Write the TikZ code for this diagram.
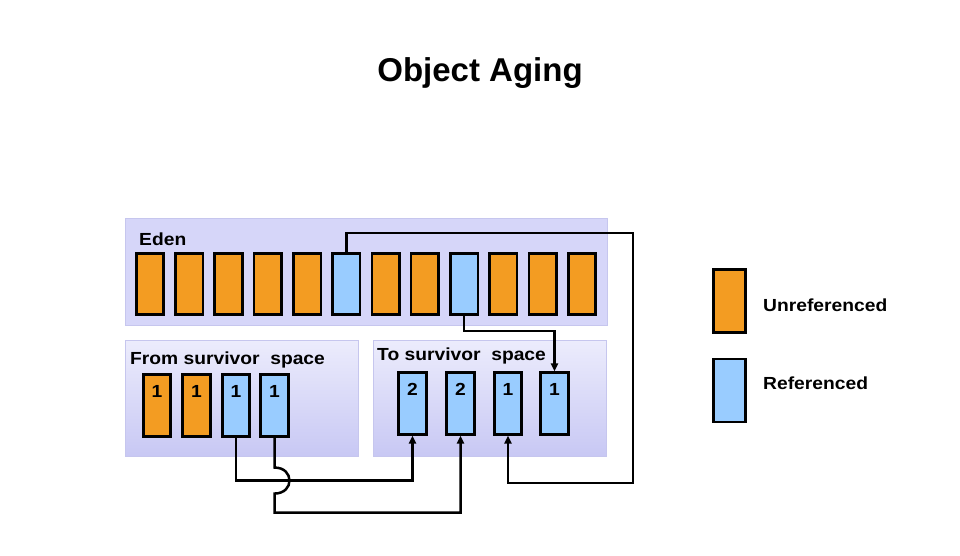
\documentclass[tikz,border=0pt]{standalone}
\usepackage{fontspec}
\setmainfont{Liberation Sans}
\newfontfamily\widesans{Liberation Sans}[FakeStretch=1.1]
\usetikzlibrary{arrows.meta, positioning, calc}
\usepackage{xcolor}
\definecolor{agingorange}{HTML}{F39C22}
\definecolor{agingblue}{HTML}{99CCFF}
\definecolor{edenfill}{HTML}{D6D6F9}
\definecolor{spacetop}{HTML}{ECECFC}
\definecolor{spacebot}{HTML}{C8C8F4}
\definecolor{spaceedge}{HTML}{C6C6EE}

\begin{document}
\begin{tikzpicture}[
    x=1pt, y=-1pt,
    space/.style={
        draw=spaceedge,
        line width=1pt,
        top color=spacetop,
        bottom color=spacebot
    },
    cell/.style={
        rectangle,
        minimum width=27.5pt,
        minimum height=61.5pt,
        inner sep=0pt,
        draw=black,
        line width=2.6pt,
        fill=#1
    },
    cellnum/.style={
        font=\widesans\bfseries\fontsize{17.5}{20}\selectfont,
        inner sep=0pt
    },
    spacelbl/.style={
        anchor=base west,
        font=\widesans\bfseries\fontsize{17.5}{20}\selectfont,
        inner sep=0pt
    },
    conn/.style={
        line width=2.5pt,
        line join=miter,
        #1
    },
    conn/.default={}
]
\useasboundingbox (0,0) rectangle (960,556);

% Title
\node[font=\bfseries\fontsize{33}{38}\selectfont, anchor=base] (title) at (480,82) {Object Aging};

% Spaces
\fill[edenfill] (125,218) rectangle (607,325);
\draw[spaceedge, line width=1pt] (125,218) rectangle (607,325);
\draw[space] (125,340) rectangle (358,456);
\draw[space] (373,340) rectangle (606,456);

\node[spacelbl] (edenlbl) at (139,245) {Eden};
\node[spacelbl] (fromlbl) at (130,364) {From survivor\ \ space};
\node[spacelbl] (tolbl) at (377,360) {To survivor\ \ space};

% Eden objects
\foreach \i/\c in {1/agingorange, 2/agingorange, 3/agingorange, 4/agingorange,
                   5/agingorange, 6/agingblue, 7/agingorange, 8/agingorange,
                   9/agingblue, 10/agingorange, 11/agingorange, 12/agingorange}
    \node[cell=\c] (e\i) at ({150+39.27*(\i-1)},284) {};

% From survivor space objects
\node[cell=agingorange] (f1) at (157,405.5) {};
\node[cell=agingorange] (f2) at (196.5,405.5) {};
\node[cell=agingblue] (f3) at (236,405.5) {};
\node[cell=agingblue] (f4) at (274.5,405.5) {};

% To survivor space objects
\node[cell=agingblue] (t1) at (412.5,403.5) {};
\node[cell=agingblue] (t2) at (460.5,403.5) {};
\node[cell=agingblue] (t3) at (508,403.5) {};
\node[cell=agingblue] (t4) at (554.5,403.5) {};

% Ages
\foreach \n in {f1,f2,f3,f4}
    \node[cellnum, below=12pt of \n.north] (\n age) {1};
\node[cellnum, below=12pt of t1.north] (t1age) {2};
\node[cellnum, below=12pt of t2.north] (t2age) {2};
\node[cellnum, below=12pt of t3.north] (t3age) {1};
\node[cellnum, below=12pt of t4.north] (t4age) {1};

% Copying
\coordinate (ert) at (633,233);
\coordinate (erb) at (633,483);
\draw[conn, -{Triangle[length=8pt, width=7pt]}] (e6.north) |- (ert) -- (erb) -| (t3.south);
\draw[conn, -{Triangle[length=8pt, width=7pt]}] (e9.south) -- ++(0,15) -| (t4.north);
\draw[conn, -{Triangle[length=8pt, width=7pt]}] (f3.south) -- ++(0,43) -| (t1.south);
\draw[conn, -{Triangle[length=8pt, width=7pt]}] (f4.south) -- ++(0,30)
    .. controls +(20,0) and +(20,0) .. ++(0,26) -- ++(0,19) -| (t2.south);

% Legend
\node[cell=agingorange, minimum width=32pt, minimum height=63pt] (keyold) at (729.5,301) {};
\node[cell=agingblue, minimum width=32pt, minimum height=63pt] (keyref) at (729.5,390.5) {};
\node[spacelbl] (keyoldlbl) at (763,311) {Unreferenced};
\node[spacelbl] (keyreflbl) at (763,389) {Referenced};

\end{tikzpicture}
\end{document}
